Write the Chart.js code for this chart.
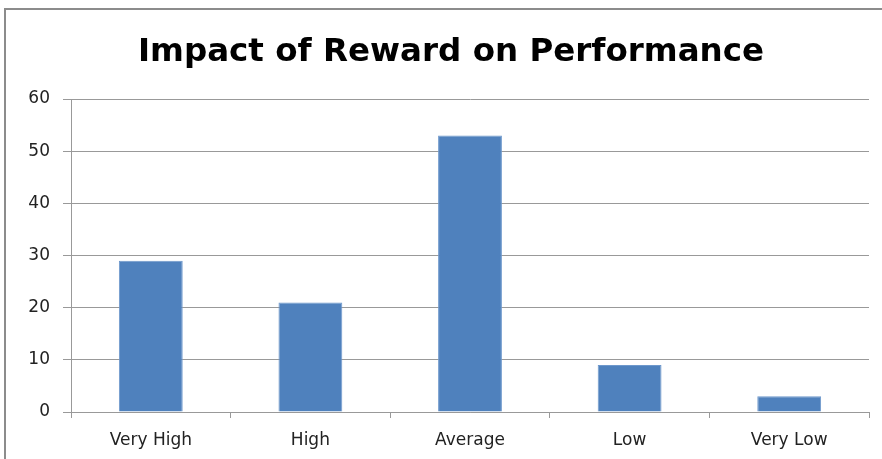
<!DOCTYPE html>
<html>
<head>
<meta charset="utf-8">
<script src="https://cdn.jsdelivr.net/npm/chart.js@4"></script>
<style>
  html, body { margin: 0; padding: 0; background: #fff; }
  #wrap { position: relative; width: 882px; height: 459px; overflow: hidden; }
  #frame { position: absolute; left: 4px; top: 8px; width: 1000px; height: 1000px; border: 2px solid #8c8c8c; box-sizing: border-box; }
  canvas { position: absolute; left: 0; top: 0; }
</style>
</head>
<body>
<div id="wrap">
  <div id="frame"></div>
  <canvas id="c" width="882" height="459"></canvas>
</div>
<script>
const categories = ["Very High", "High", "Average", "Low", "Very Low"];
const values = [29, 21, 53, 9, 3];
const yTicks = [0, 10, 20, 30, 40, 50, 60];
const titleText = "Impact of Reward on Performance";

const FONT = "'DejaVu Sans', sans-serif";

// Centre the title over the whole framed chart (as in the reference) rather than the padded box
const shiftTitle = {
  id: 'shiftTitle',
  afterLayout(chart) {
    const t = chart.titleBlock;
    if (t) { t.left = 20; t.right = 882; t.width = 862; }
  }
};

new Chart(document.getElementById('c'), {
  type: 'bar',
  data: {
    labels: categories,
    datasets: [{
      data: values,
      backgroundColor: '#4F81BD',
      borderColor: '#6E98CC',
      borderWidth: 1,
      barPercentage: 0.4,
      categoryPercentage: 1.0
    }]
  },
  options: {
    responsive: false,
    animation: false,
    devicePixelRatio: 1,
    layout: { padding: { left: 0, right: 13, top: 0, bottom: 0 } },
    plugins: {
      legend: { display: false },
      tooltip: { enabled: false },
      title: {
        display: true,
        text: titleText,
        color: '#000',
        font: { family: FONT, size: 32.5, weight: 'bold', lineHeight: 1.2 },
        padding: { top: 33, bottom: 27 }
      }
    },
    scales: {
      x: {
        offset: true,
        grid: {
          offset: true,
          drawOnChartArea: false,
          drawTicks: true,
          tickLength: 6,
          color: '#999'
        },
        border: { color: '#999', width: 1 },
        ticks: {
          color: '#222',
          font: { family: FONT, size: 17 },
          padding: 12,
          maxRotation: 0
        },
        afterFit: (s) => { s.height = 47; }
      },
      y: {
        min: 0,
        max: 60,
        afterBuildTicks: (s) => { s.ticks = yTicks.map(v => ({ value: v })); },
        grid: {
          color: '#999',
          tickLength: 8,
          drawTicks: true
        },
        border: { color: '#999', width: 1 },
        ticks: {
          color: '#222',
          font: { family: FONT, size: 17 },
          padding: 13
        },
        afterFit: (s) => { s.width = 71; }
      }
    }
  },
  plugins: [shiftTitle]
});
</script>
</body>
</html>
